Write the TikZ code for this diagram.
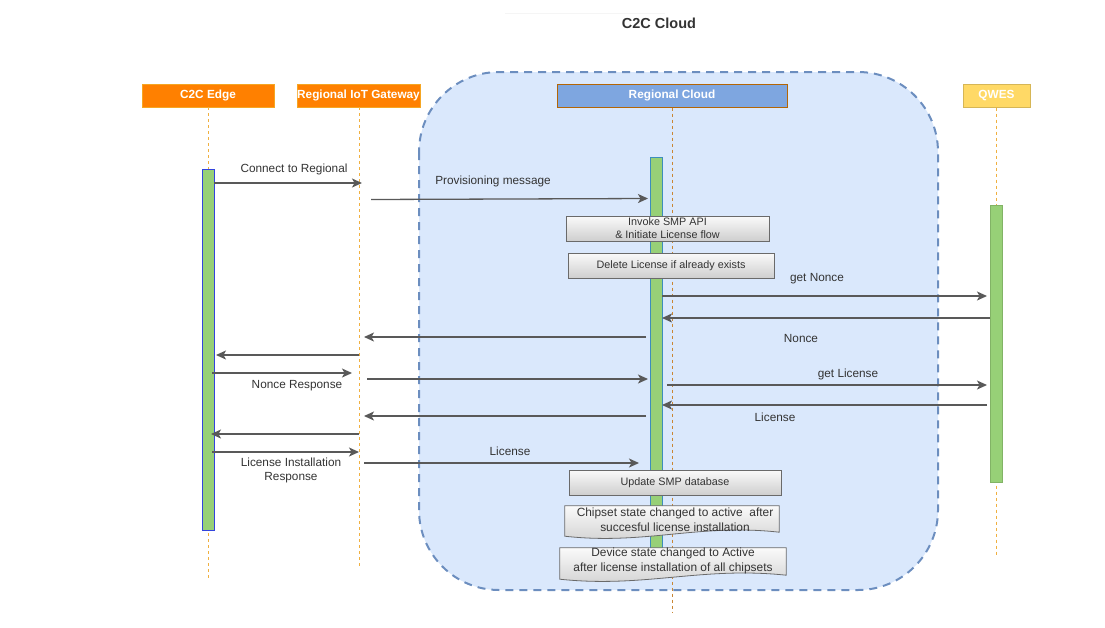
\documentclass[tikz,border=0pt]{standalone}
\usepackage{fontspec}
\setmainfont{Liberation Sans}
\usetikzlibrary{arrows.meta}
\definecolor{hdrorange}{HTML}{FF8000}
\definecolor{hdrorangeb}{HTML}{F5A623}
\definecolor{cloudfill}{HTML}{DAE8FC}
\definecolor{cloudline}{HTML}{6C8EBF}
\definecolor{rcfill}{HTML}{7EA6E0}
\definecolor{rcline}{HTML}{B46504}
\definecolor{qwfill}{HTML}{FFD966}
\definecolor{qwline}{HTML}{D6B656}
\definecolor{lifeA}{HTML}{F0B040}
\definecolor{lifeB}{HTML}{C98634}
\definecolor{barfill}{HTML}{97D077}
\definecolor{barblue}{HTML}{3344DD}
\definecolor{barteal}{HTML}{3C8DBC}
\definecolor{bargreen}{HTML}{82B366}
\definecolor{msgcol}{HTML}{595959}
\definecolor{txtcol}{HTML}{333333}
\begin{document}
\begin{tikzpicture}[x=1pt,y=-1pt,
  hdr/.style={rectangle, inner sep=0pt, minimum height=23pt, text=white,
    font=\bfseries\fontsize{11.8}{13}\selectfont},
  life/.style={dash pattern=on 3pt off 3pt, line width=1pt},
  actbar/.style={rectangle, fill=barfill, inner sep=0pt, minimum width=12pt, line width=1pt},
  msg/.style={draw=msgcol, line width=1.3pt, -{Stealth[length=10pt,width=9pt,inset=2.5pt]}},
  lbl/.style={text=txtcol, font=\fontsize{11.8}{14}\selectfont, align=center, inner sep=0pt},
  note/.style={rectangle, draw=msgcol!90, line width=0.8pt, top color=gray!4, bottom color=gray!38,
    inner sep=0pt, text=txtcol, font=\fontsize{10.8}{13}\selectfont, align=center},
  doctext/.style={rectangle, inner sep=0pt, text=txtcol, font=\fontsize{11.9}{14.5}\selectfont, align=center},
  docshape/.style={draw=msgcol!90, line width=0.8pt, top color=gray!4, bottom color=gray!38}
]
\useasboundingbox (0,0) rectangle (1105,627);

% faint top line and title
\draw[gray!8, line width=1pt] (505,13) -- (665,13);
\node[text=txtcol, font=\bfseries\fontsize{14.5}{16}\selectfont] (title) at (659,23) {C2C Cloud};

% cloud region
\draw[fill=cloudfill, draw=cloudline, line width=2pt, dash pattern=on 8pt off 6pt, rounded corners=80pt]
  (419,72) rectangle (938,590);

% headers
\node[hdr, fill=hdrorange, draw=hdrorangeb, line width=0.6pt, minimum width=132pt] (edge) at (208,95.5) {C2C Edge};
\node[hdr, fill=hdrorange, draw=hdrorangeb, line width=0.6pt, minimum width=121pt] (gw) at (358.5,95.5) {Regional IoT Gateway};
\node[hdr, fill=rcfill, draw=rcline, line width=1pt, minimum width=230pt] (rc) at (672,95.5) {Regional Cloud};
\node[hdr, fill=qwfill, draw=qwline, line width=1pt, minimum width=67pt] (qw) at (996.5,95.5) {QWES};

% lifeline ends
\coordinate (edgeend) at (208,580);
\coordinate (gwend) at (359,568);
\coordinate (rcend) at (672,613);
\coordinate (qwend) at (996,555);
\draw[life, lifeA] (edge.south) -- (edgeend);
\draw[life, lifeA] (gw.south -| gwend) -- (gwend);
\draw[life, lifeB] (rc.south) -- (rcend);
\draw[life, lifeA] (qw.south -| qwend) -- (qwend);

% activation bars
\node[actbar, draw=barblue, minimum height=361pt] (edgebar) at (208,349.5) {};
\node[actbar, draw=barteal, minimum height=418pt] (rcbar) at (656,366) {};
\node[actbar, draw=bargreen, minimum height=277pt] (qwbar) at (996,343.5) {};

% notes
\node[note, minimum width=203pt, minimum height=25pt] (n1) at (667.5,228.5) {Invoke SMP API\\\& Initiate License flow};
\node[note, minimum width=206pt, minimum height=25pt] (n2) at (671,265.5) {Delete License if already exists};
\node[note, minimum width=212pt, minimum height=25pt] (n3) at (675,482.5) {Update SMP database};

% document shapes
\node[doctext, minimum width=214pt, minimum height=31pt] (n4) at (672,521.5) {};
\path[docshape] (n4.north west) -- (n4.north east) -- ([yshift=5pt]n4.south east)
  .. controls ([xshift=-80pt,yshift=14pt]n4.south east) and ([xshift=80pt,yshift=-8pt]n4.south west)
  .. ([yshift=1pt]n4.south west) -- cycle;
\node[doctext] (n4t) at (675,519.5) {Chipset state changed to active\ \ after\\succesful license installation};

\node[doctext, minimum width=226pt, minimum height=32pt] (n5) at (673,564) {};
\path[docshape] (n5.north west) -- (n5.north east) -- ([yshift=5pt]n5.south east)
  .. controls ([xshift=-85pt,yshift=14pt]n5.south east) and ([xshift=85pt,yshift=-8pt]n5.south west)
  .. ([yshift=1pt]n5.south west) -- cycle;
\node[doctext] (n5t) at (673,561) {Device state changed to Active\\after license installation of all chipsets};

% message endpoints
\coordinate (a1s) at (214,183);  \coordinate (a1e) at (362,183);
\coordinate (a2s) at (371,199.5);  \coordinate (a2e) at (648,198.5);
\coordinate (a3s) at (662,296);  \coordinate (a3e) at (987,296);
\coordinate (a4s) at (990,318);  \coordinate (a4e) at (662,318);
\coordinate (a5s) at (646,337);  \coordinate (a5e) at (364,337);
\coordinate (a6s) at (359,355);  \coordinate (a6e) at (216,355);
\coordinate (a7s) at (212,373);  \coordinate (a7e) at (352,373);
\coordinate (a8s) at (367,379);  \coordinate (a8e) at (648,379);
\coordinate (a9s) at (667,385);  \coordinate (a9e) at (987,385);
\coordinate (a10s) at (987,405); \coordinate (a10e) at (662,405);
\coordinate (a11s) at (646,416); \coordinate (a11e) at (364,416);
\coordinate (a12s) at (359,434); \coordinate (a12e) at (211,434);
\coordinate (a13s) at (212,452); \coordinate (a13e) at (359,452);
\coordinate (a14s) at (364,463); \coordinate (a14e) at (639,463);

\draw[msg] (a1s) -- (a1e);
\draw[msg] (a2s) -- (a2e);
\draw[msg] (a3s) -- (a3e);
\draw[msg] (a4s) -- (a4e);
\draw[msg] (a5s) -- (a5e);
\draw[msg] (a6s) -- (a6e);
\draw[msg] (a7s) -- (a7e);
\draw[msg] (a8s) -- (a8e);
\draw[msg] (a9s) -- (a9e);
\draw[msg] (a10s) -- (a10e);
\draw[msg] (a11s) -- (a11e);
\draw[msg] (a12s) -- (a12e);
\draw[msg] (a13s) -- (a13e);
\draw[msg] (a14s) -- (a14e);

% labels
\node[lbl] (l1) at (294,169) {Connect to Regional};
\node[lbl] (l2) at (493,181) {Provisioning message};
\node[lbl] (l3) at (817,279) {get Nonce};
\node[lbl] (l4) at (801,338) {Nonce};
\node[lbl] (l5) at (297,386) {Nonce Response};
\node[lbl] (l6) at (848,374) {get License};
\node[lbl] (l7) at (775,417) {License};
\node[lbl] (l8) at (291,470) {License Installation\\Response};
\node[lbl] (l9) at (510,451) {License};
\end{tikzpicture}
\end{document}
